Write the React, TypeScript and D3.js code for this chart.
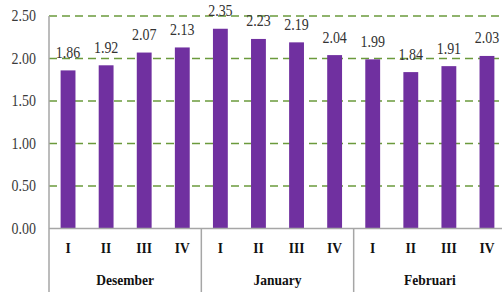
import * as d3 from 'd3';

const months = ['Desember', 'January', 'Februari'];
const weeks = ['I', 'II', 'III', 'IV'];
const values = [1.86, 1.92, 2.07, 2.13, 2.35, 2.23, 2.19, 2.04, 1.99, 1.84, 1.91, 2.03];
const yTicks = [0, 0.5, 1, 1.5, 2, 2.5];

const W = 502;
const H = 295;
const left = 49;
const right = 506;
const top = 16;
const bottom = 228.5;

function App() {
    const keys = months.flatMap((m) => weeks.map((w) => `${m}-${w}`));
    const x = d3.scaleBand().domain(keys).range([left, right]).paddingInner(0.61).paddingOuter(0.305);
    const xm = d3.scaleBand().domain(months).range([left, right]);
    const y = d3.scaleLinear().domain([0, 2.5]).range([bottom, top]);
    const fmt = d3.format('.2f');

    return (
        <svg width={W} height={H} style={{ position: 'absolute', left: 0, top: 0, background: '#fff' }}
            fontFamily="'Liberation Serif', 'Times New Roman', serif">
            {yTicks.map((t) => (
                <g key={t}>
                    {t > 0 && (
                        <line x1={left} x2={W} y1={y(t)} y2={y(t)} stroke="#6b9a3c" strokeWidth={1.3} strokeDasharray="8,5" />
                    )}
                    <text transform={`translate(36,${y(t) + 5}) scale(1,1.12)`} textAnchor="end" fontSize={14} fill="#3a3a3a">
                        {fmt(t)}
                    </text>
                </g>
            ))}
            {values.map((v, i) => {
                const cx = (x(keys[i]) as number) + x.bandwidth() / 2;
                return (
                    <g key={keys[i]}>
                        <rect x={x(keys[i])} y={y(v)} width={x.bandwidth()} height={bottom - y(v)} fill="#7030a0" />
                        <text transform={`translate(${cx},${y(v) - 12.5}) scale(1,1.25)`} textAnchor="middle" fontSize={14} fill="#333">
                            {fmt(v)}
                        </text>
                        <text transform={`translate(${cx},253) scale(1,1.08)`} textAnchor="middle" fontSize={13.5} fontWeight="bold" fill="#111">
                            {keys[i].split('-')[1]}
                        </text>
                    </g>
                );
            })}
            <line x1={left} x2={W} y1={bottom} y2={bottom} stroke="#a6a6a6" strokeWidth={1.5} />
            <line x1={left} x2={left} y1={top} y2={292} stroke="#a6a6a6" strokeWidth={1.5} />
            {months.map((m) => (
                <g key={m}>
                    <line x1={(xm(m) as number) + xm.bandwidth()} x2={(xm(m) as number) + xm.bandwidth()} y1={bottom} y2={292} stroke="#a6a6a6" strokeWidth={1.5} />
                    <text transform={`translate(${(xm(m) as number) + xm.bandwidth() / 2},285) scale(1,1.12)`} textAnchor="middle" fontSize={13.5} fontWeight="bold" fill="#111">
                        {m}
                    </text>
                </g>
            ))}
        </svg>
    );
}

export default App;
